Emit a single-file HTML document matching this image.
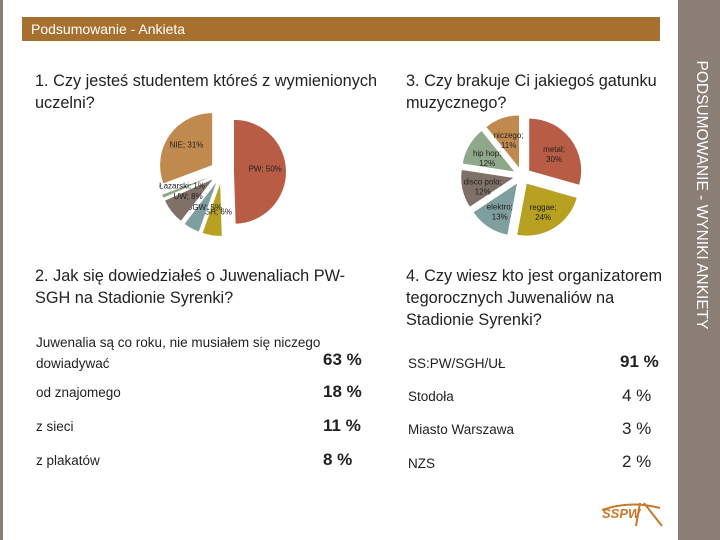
<!DOCTYPE html>
<html><head><meta charset="utf-8"><style>
body{margin:0;width:720px;height:540px;overflow:hidden;background:#fff;font-family:"Liberation Sans",sans-serif;position:relative}
.a{position:absolute;white-space:nowrap}
.q{font-size:16.3px;color:#222;line-height:22px}
.r{font-size:13.5px;color:#222}
.v{font-size:17px;color:#222}
</style></head><body>
<div class="a" style="left:0;top:0;width:3px;height:540px;background:#8b7e76"></div>
<div class="a" style="left:22px;top:17px;width:638px;height:24px;background:#a8702f"></div>
<div class="a" style="left:31px;top:21px;color:#fff;font-size:14px">Podsumowanie - Ankieta</div>
<div class="a" style="left:678px;top:0;width:42px;height:540px;background:#8b7e76"></div>
<div class="a" style="left:701px;top:195px;color:#fff;font-size:15.5px;transform:translate(-50%,-50%) rotate(90deg)">PODSUMOWANIE - WYNIKI ANKIETY</div>

<div class="a q" style="left:35px;top:70px">1. Czy jesteś studentem któreś z wymienionych<br>uczelni?</div>
<div class="a q" style="left:406px;top:70px">3. Czy brakuje Ci jakiegoś gatunku<br>muzycznego?</div>
<div class="a q" style="left:35px;top:265px">2. Jak się dowiedziałeś o Juwenaliach PW-<br>SGH na Stadionie Syrenki?</div>
<div class="a q" style="left:406px;top:265px">4. Czy wiesz kto jest organizatorem<br>tegorocznych Juwenaliów na<br>Stadionie Syrenki?</div>

<div class="a r" style="left:36px;top:332px;line-height:21px">Juwenalia są co roku, nie musiałem się niczego<br>dowiadywać</div>
<div class="a v" style="left:323px;top:350px;font-weight:bold">63 %</div>
<div class="a r" style="left:36px;top:385px">od znajomego</div>
<div class="a v" style="left:323px;top:382px;font-weight:bold">18 %</div>
<div class="a r" style="left:36px;top:419px">z sieci</div>
<div class="a v" style="left:323px;top:416px;font-weight:bold">11 %</div>
<div class="a r" style="left:36px;top:453px">z plakatów</div>
<div class="a v" style="left:323px;top:450px;font-weight:bold">8 %</div>

<div class="a r" style="left:408px;top:356px">SS:PW/SGH/UŁ</div>
<div class="a v" style="left:620px;top:352px;font-weight:bold">91 %</div>
<div class="a r" style="left:408px;top:389px">Stodoła</div>
<div class="a v" style="left:622px;top:386px">4 %</div>
<div class="a r" style="left:408px;top:422px">Miasto Warszawa</div>
<div class="a v" style="left:622px;top:419px">3 %</div>
<div class="a r" style="left:408px;top:456px">NZS</div>
<div class="a v" style="left:622px;top:452px">2 %</div>

<div class="a" style="left:602px;top:506px;color:#c8782a;font-weight:bold;font-size:13px;font-style:italic">SSPW</div>
<svg class="a" style="left:600px;top:498px" width="70" height="30"><path d="M2 12 Q30 2 60 10 M40 5 L36 28 M44 5 L62 28" stroke="#c8782a" stroke-width="2" fill="none"/></svg>

<svg id="pies" class="a" style="left:0;top:0" width="720" height="540"></svg>
<script>
const pie1Labels=["PW","SGH","SGGW","UW","Łazarski","NIE"];
const pie1Values=[50,6,5,8,1,31];
const pie2Labels=["metal","reggae","elektro","disco polo","hip hop","niczego"];
const pie2Values=[30,24,13,12,12,11];
const pie1Colors=["#b85c45","#b8a020","#7f9ea0","#7f7068","#8fa88a","#c08a4f"];
const pie2Colors=["#b85c45","#b8a020","#7f9ea0","#7f7068","#8fa88a","#c08a4f"];
const svg=document.getElementById('pies');
const NS="http://www.w3.org/2000/svg";
function drawPie(labels,values,colors,cx,cy,r,ex,name,labelPos){
  const tot=values.reduce((a,b)=>a+b,0);let a0=0;
  values.forEach((v,i)=>{
    const a1=a0+v/tot*Math.PI*2, m=(a0+a1)/2;
    const ox=cx+ex*Math.sin(m), oy=cy-ex*Math.cos(m);
    const x0=ox+r*Math.sin(a0),y0=oy-r*Math.cos(a0),x1=ox+r*Math.sin(a1),y1=oy-r*Math.cos(a1);
    const p=document.createElementNS(NS,'path');
    p.setAttribute('d',`M${ox},${oy}L${x0},${y0}A${r},${r} 0 ${a1-a0>Math.PI?1:0} 1 ${x1},${y1}Z`);
    p.setAttribute('fill',colors[i]);
    
    
    svg.appendChild(p);
    const lr=r*0.6+ex;
    const lines=labelPos(labels[i],v);
    const t=document.createElementNS(NS,'text');
    t.setAttribute('x',cx+lr*Math.sin(m));t.setAttribute('y',cy-lr*Math.cos(m));
    t.setAttribute('font-size','8');t.setAttribute('fill','#222');t.setAttribute('text-anchor','middle');
    t.setAttribute('font-family','Liberation Sans, sans-serif');
    
    
    lines.forEach((s,k)=>{const ts=document.createElementNS(NS,'tspan');ts.setAttribute('x',cx+lr*Math.sin(m));ts.setAttribute('dy',k?'10':'0');ts.textContent=s;t.appendChild(ts);});
    svg.appendChild(t);
    a0=a1;
  });
}
drawPie(pie1Labels,pie1Values,pie1Colors,222,172,52,12,'pie-uczelnie',(l,v)=>[l+"; "+v+"%"]);
drawPie(pie2Labels,pie2Values,pie2Colors,522,176,52,9,'pie-gatunki',(l,v)=>[l+";",v+"%"]);
</script>
</body></html>
